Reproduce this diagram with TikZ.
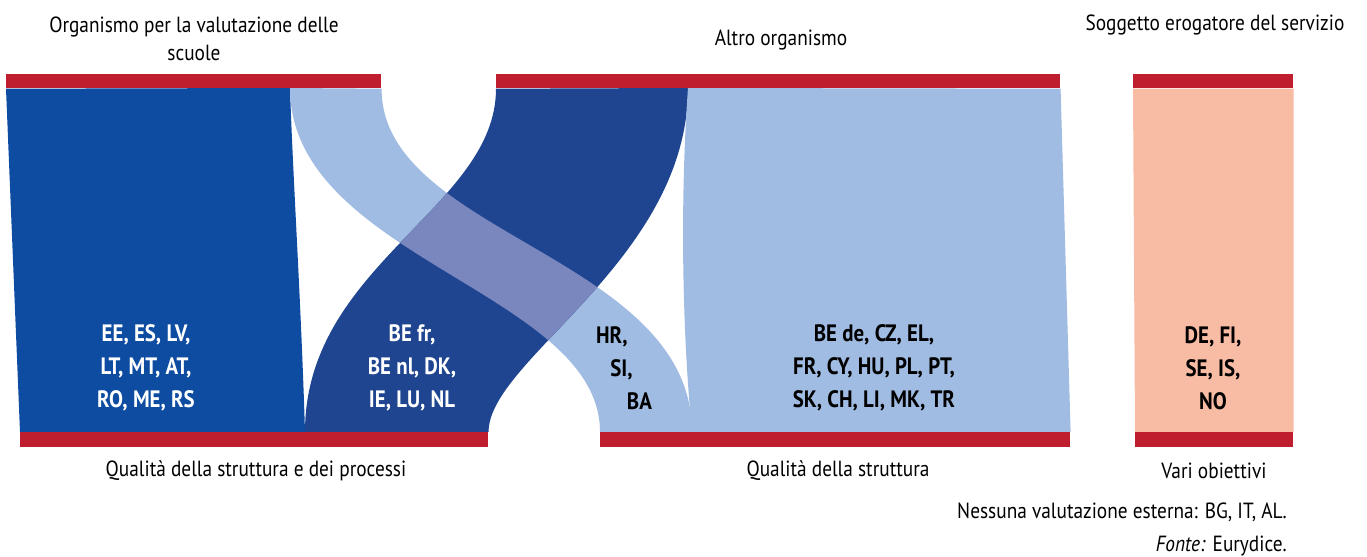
\documentclass[tikz,border=0pt]{standalone}
\usepackage{fontspec}
\setmainfont{PT Sans}[FakeStretch=0.88]
\usetikzlibrary{positioning, backgrounds}
\definecolor{barred}{RGB}{190,30,45}
\definecolor{schoolblue}{RGB}{13,76,161}
\definecolor{otherblue}{RGB}{31,69,145}
\definecolor{structblue}{RGB}{160,188,226}
\definecolor{mixblue}{RGB}{122,135,190}
\definecolor{providersalmon}{RGB}{248,187,164}

\begin{document}
\begin{tikzpicture}[
  x=0.02cm, y=-0.02cm,
  every node/.style={font=\fontsize{12.5}{16}\selectfont},
  bar/.style={rectangle, fill=barred, inner sep=0pt, anchor=north west,
              minimum height=0.28cm},
  country/.style={font=\fontsize{13.5}{18.7}\selectfont\bfseries, align=center},
  caption/.style={align=center}
]
\useasboundingbox (0,0) rectangle (1367,557);

%--- Bars (top: evaluators, bottom: focus) ---%
\node[bar, minimum width=7.5cm]   (topA) at (6,74)    {};
\node[bar, minimum width=11.28cm] (topB) at (496,74)  {};
\node[bar, minimum width=3.2cm]   (topC) at (1133,74) {};
\node[bar, minimum width=9.36cm, minimum height=0.3cm] (botA) at (20,432)   {};
\node[bar, minimum width=9.4cm,  minimum height=0.3cm] (botB) at (600,432)  {};
\node[bar, minimum width=3.16cm, minimum height=0.3cm] (botC) at (1135,432) {};

%--- Flows ---%
\begin{scope}[on background layer]
  \fill[schoolblue] (topA.south west) -- (botA.north west) -- (305,432)
    .. controls (301,300) and (293,180) .. (290,88) -- cycle;
  \fill[structblue] (290,88) .. controls (290,258) and (600,292) .. (botB.north west)
    -- (692,432) .. controls (692,256) and (381,235) .. (topA.south east) -- cycle;
  \fill[otherblue] (topB.south west) .. controls (496,208) and (305,265) .. (305,432)
    -- (botA.north east) .. controls (488,360) and (688,260) .. (688,88) -- cycle;
  \begin{scope}
    \clip (topB.south west) .. controls (496,208) and (305,265) .. (305,432)
      -- (botA.north east) .. controls (488,360) and (688,260) .. (688,88) -- cycle;
    \fill[mixblue] (290,88) .. controls (290,258) and (600,292) .. (botB.north west)
      -- (692,432) .. controls (692,256) and (381,235) .. (topA.south east) -- cycle;
  \end{scope}
  \fill[structblue] (688,88) -- (topB.south east) -- (botB.north east) -- (692,432)
    .. controls (682,330) and (680,200) .. (688,88) -- cycle;
  \fill[providersalmon] (topC.south west) -- (topC.south east)
    -- (botC.north east) -- (botC.north west) -- cycle;
\end{scope}

%--- Headers and footers ---%
\node[caption] (hdrA) at (194,39)  {Organismo per la valutazione delle\\scuole};
\node          (hdrB) at (781,40)  {Altro organismo};
\node          (hdrC) at (1215,25) {Soggetto erogatore del servizio};
\node          (ftrA) at (256,471) {Qualità della struttura e dei processi};
\node          (ftrB) at (838,471) {Qualità della struttura};
\node          (ftrC) at (1214,471) {Vari obiettivi};
\node[anchor=east] (nonote) at (1293,512) {Nessuna valutazione esterna: BG, IT, AL.};
\node[anchor=east] (source) at (1293,546) {\textit{Fonte:} Eurydice.};

%--- Country labels ---%
\node[country, text=white] (lblA) at (146,368)  {EE, ES, LV,\\LT, MT, AT,\\RO, ME, RS};
\node[country, text=white] (lblB) at (412,368)  {BE fr,\\BE nl, DK,\\IE, LU, NL};
\node[country, align=left] (lblC) at (624,368)  {HR,\\\hspace{0.6em}SI,\\\hspace{1.3em}BA};
\node[country]             (lblD) at (874,368)  {BE de, CZ, EL,\\FR, CY, HU, PL, PT,\\SK, CH, LI, MK, TR};
\node[country]             (lblE) at (1213,368) {DE, FI,\\SE, IS,\\NO};

\end{tikzpicture}
\end{document}
